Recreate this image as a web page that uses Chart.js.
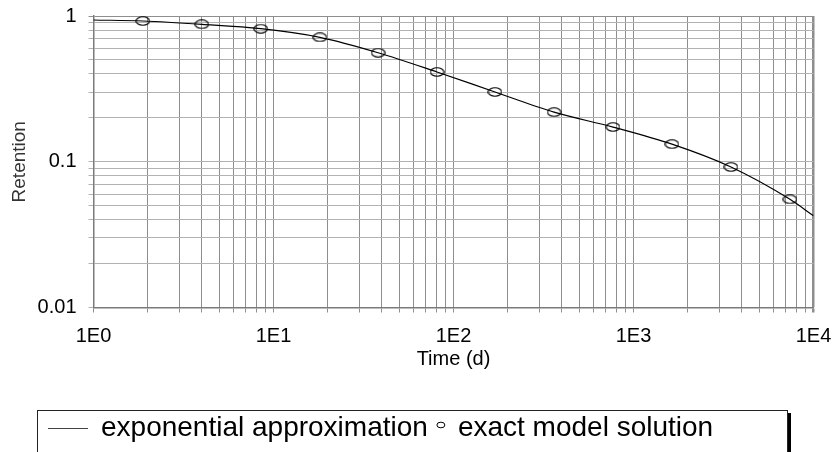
<!DOCTYPE html>
<html>
<head>
<meta charset="utf-8">
<script src="https://cdn.jsdelivr.net/npm/chart.js@4/dist/chart.umd.min.js"></script>
<style>
  html, body { margin: 0; padding: 0; background: #ffffff; }
  #wrap { width: 836px; height: 452px; position: relative; overflow: hidden; }
</style>
</head>
<body>
<div id="wrap"><canvas id="c" width="836" height="452"></canvas></div>
<script>
// ---- data ----
const exactTimes = [1.88, 4.0, 8.5, 18.1, 38.1, 81, 170, 362, 769, 1636, 3480, 7400];
const exactRetention = [0.924, 0.877, 0.818, 0.714, 0.560, 0.413, 0.301, 0.219, 0.173, 0.132, 0.092, 0.0552];
const approxTimes = [1, 1.88, 4.0, 8.5, 18.1, 38.1, 81, 170, 362, 769, 1636, 3480, 7400, 10000];
const approxRetention = [0.939, 0.924, 0.877, 0.818, 0.714, 0.560, 0.413, 0.301, 0.219, 0.173, 0.132, 0.092, 0.0552, 0.0426];

const seriesLabels = ['exponential approximation', 'exact model solution'];
const xTickValues = [1, 10, 100, 1000, 10000];
const xTickLabels = ['1E0', '1E1', '1E2', '1E3', '1E4'];
const yTickValues = [0.01, 0.1, 1];
const yTickLabels = ['0.01', '0.1', '1'];
const xTitle = 'Time (d)';
const yTitle = 'Retention';

// grid lines at 1..9 x each decade
function logGrid(decades) {
  const out = [];
  for (let i = 0; i < decades.length - 1; i++) {
    for (let m = 1; m <= 9; m++) out.push(decades[i] * m);
  }
  out.push(decades[decades.length - 1]);
  return out;
}
function labelFor(values, labels, v) {
  const i = values.findIndex(t => Math.abs(t - v) / t < 1e-6);
  return i >= 0 ? labels[i] : '';
}

// elliptical marker
function ellipseMarker(w, h) {
  const cv = document.createElement('canvas');
  cv.width = w; cv.height = h;
  const g = cv.getContext('2d');
  g.strokeStyle = '#000';
  g.lineWidth = 1.1;
  g.beginPath();
  g.ellipse(w / 2, h / 2, w / 2 - 0.8, h / 2 - 0.8, 0, 0, Math.PI * 2);
  g.stroke();
  return cv;
}
const marker = ellipseMarker(15, 10);

const FONT = '"Liberation Sans", Arial, sans-serif';

const legendPlugin = {
  id: 'boxLegend',
  afterDraw(chart) {
    const ctx = chart.ctx;
    ctx.save();
    ctx.font = '28px ' + FONT;
    const L = 37, T = 410, B = 475, R = 787;
    const t1x = 101;
    const w1 = ctx.measureText(seriesLabels[0]).width;
    const cx = t1x + w1 + 13;
    const t2x = cx + 17;
    // shadow
    ctx.fillStyle = '#000';
    ctx.fillRect(R, T + 3, 4, B - T);
    ctx.fillStyle = '#fff';
    ctx.fillRect(L, T, R - L, B - T);
    ctx.strokeStyle = '#222';
    ctx.lineWidth = 1;
    ctx.strokeRect(L + 0.5, T + 0.5, R - L, B - T);
    // line sample
    ctx.strokeStyle = '#444';
    ctx.lineWidth = 1;
    ctx.beginPath();
    ctx.moveTo(48, 428.5);
    ctx.lineTo(88, 428.5);
    ctx.stroke();
    ctx.fillStyle = '#000';
    ctx.textBaseline = 'alphabetic';
    ctx.textAlign = 'left';
    ctx.fillText(seriesLabels[0], t1x, 436);
    // marker sample
    ctx.strokeStyle = '#000';
    ctx.lineWidth = 1;
    ctx.beginPath();
    ctx.ellipse(cx, 425, 4, 2.8, 0, 0, Math.PI * 2);
    ctx.stroke();
    ctx.fillText(seriesLabels[1], t2x, 436);
    ctx.restore();
  }
};

new Chart(document.getElementById('c'), {
  data: {
    datasets: [
      {
        type: 'line',
        label: seriesLabels[0],
        data: approxTimes.map((t, i) => ({ x: t, y: approxRetention[i] })),
        borderColor: '#000',
        borderWidth: 1.2,
        pointRadius: 0,
        cubicInterpolationMode: 'monotone',
        fill: false,
        order: 2
      },
      {
        type: 'scatter',
        label: seriesLabels[1],
        data: exactTimes.map((t, i) => ({ x: t, y: exactRetention[i] })),
        pointStyle: marker,
        pointRadius: 7,
        showLine: false,
        order: 1
      }
    ]
  },
  options: {
    responsive: false,
    animation: false,
    devicePixelRatio: 1,
    layout: { padding: { left: 0, top: 16, right: 22.5, bottom: 74.5 } },
    plugins: { legend: { display: false }, tooltip: { enabled: false } },
    scales: {
      x: {
        type: 'logarithmic',
        position: 'bottom',
        min: 1,
        max: 10000,
        afterBuildTicks(scale) { scale.ticks = logGrid(xTickValues).map(v => ({ value: v })); },
        afterFit(scale) {
          scale.height = 70;
          scale.paddingLeft = 0; scale.paddingRight = 0;
        },
        ticks: {
          autoSkip: false,
          maxRotation: 0,
          minRotation: 0,
          padding: 12,
          color: '#000',
          font: { family: FONT, size: 20 },
          callback: (v) => labelFor(xTickValues, xTickLabels, v)
        },
        grid: {
          color: '#8e8e8e',
          lineWidth: (c) => (c.tick && Math.abs(c.tick.value - 10000) < 1e-6) ? 2.5 : 1,
          tickLength: 5,
          drawTicks: true
        },
        border: { color: '#7a7a7a', width: 1.5 },
        title: {
          display: true,
          text: xTitle,
          color: '#000',
          font: { family: FONT, size: 20 },
          padding: { top: 0, bottom: 6 }
        }
      },
      y: {
        type: 'logarithmic',
        position: 'left',
        min: 0.01,
        max: 1,
        afterBuildTicks(scale) { scale.ticks = logGrid(yTickValues).map(v => ({ value: v })); },
        afterFit(scale) {
          scale.width = 93.5;
          scale.paddingTop = 0; scale.paddingBottom = 0;
        },
        ticks: {
          autoSkip: false,
          padding: 12,
          color: '#000',
          font: { family: FONT, size: 20 },
          callback: (v) => labelFor(yTickValues, yTickLabels, v)
        },
        grid: {
          color: (c) => (c.tick && Math.abs(c.tick.value - 1) < 1e-6) ? '#8e8e8e' : '#b2b2b2',
          lineWidth: 1,
          tickLength: 5
        },
        border: { color: '#7a7a7a', width: 1.5 },
        title: {
          display: true,
          text: yTitle,
          color: '#333',
          font: { family: FONT, size: 19 },
          padding: { top: 8, bottom: 0 }
        }
      }
    }
  },
  plugins: [legendPlugin]
});
</script>
</body>
</html>
